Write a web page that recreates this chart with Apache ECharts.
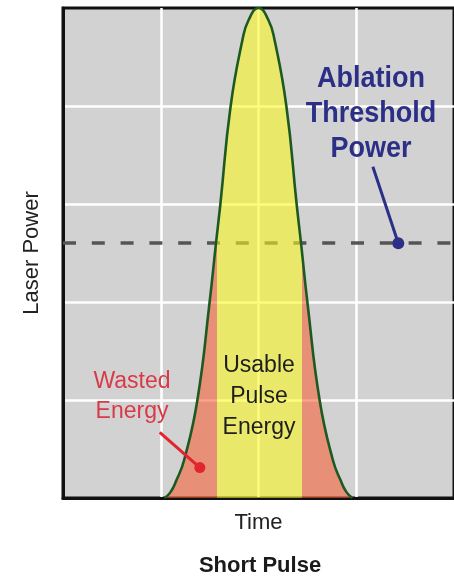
<!DOCTYPE html>
<html>
<head>
<meta charset="utf-8">
<script src="https://cdn.jsdelivr.net/npm/echarts@6/dist/echarts.min.js"></script>
<style>
  html, body { margin: 0; padding: 0; background: #ffffff; }
  #chart { width: 454px; height: 578px; }
</style>
</head>
<body>
<div id="chart"></div>
<script>
// Pulse profile: time (grid units) and laser power (grid units)
const pulseTime  = [1.04, 1.10, 1.16, 1.24, 1.375, 1.50, 1.565, 1.61, 1.715, 1.835, 1.90, 2.0, 2.10, 2.165, 2.285, 2.39, 2.435, 2.50, 2.625, 2.76, 2.84, 2.90, 2.96];
const pulsePower = [0,    0.06, 0.18, 0.39, 1.0,   2.0,  2.6,   3.0,  4.0,   4.67,  4.88, 5.0, 4.88, 4.67,  4.0,   3.0,  2.6,   2.0,  1.0,   0.39, 0.18, 0.06, 0];

// Ablation threshold power and the time window where the pulse exceeds it
const thresholdPower = 2.6;
const usableWindow = [1.58, 2.44];

// Axis extents (no tick labels are shown)
const timeRange = [0, 4];
const powerRange = [0, 5];

const pulseData = pulseTime.map((t, i) => [t, pulsePower[i]]);

const FONT = '"Liberation Sans", Arial, Helvetica, sans-serif';
const SALMON = '#f85c34';
const YELLOW = '#fcf91b';

const chart = echarts.init(document.getElementById('chart'), null, { renderer: 'canvas' });

const option = {
  animation: false,
  backgroundColor: '#ffffff',
  title: {
    text: 'Short Pulse',
    left: 255,
    top: 550,
    textAlign: 'center',
    textStyle: { fontFamily: FONT, fontSize: 22, fontWeight: 'bold', color: '#1a1a1a' }
  },
  grid: {
    left: 63, top: 8, right: -1, bottom: 80,
    show: true,
    backgroundColor: '#d2d2d2',
    borderColor: '#111111',
    borderWidth: 3
  },
  visualMap: {
    show: false,
    type: 'piecewise',
    seriesIndex: 0,
    dimension: 0,
    pieces: [
      { lt: usableWindow[0], color: SALMON },
      { gte: usableWindow[0], lte: usableWindow[1], color: YELLOW },
      { gt: usableWindow[1], color: SALMON }
    ]
  },
  xAxis: {
    type: 'value',
    min: timeRange[0], max: timeRange[1], interval: 1,
    name: 'Time',
    nameLocation: 'middle',
    nameGap: 14,
    nameTextStyle: { fontFamily: FONT, fontSize: 22, color: '#222222' },
    axisLine: { show: true, lineStyle: { color: '#111111', width: 3 } },
    axisTick: { show: false },
    axisLabel: { show: false },
    splitLine: { show: true, showMinLine: false, showMaxLine: false, lineStyle: { color: '#ffffff', width: 2.5 } }
  },
  yAxis: {
    type: 'value',
    min: powerRange[0], max: powerRange[1], interval: 1,
    name: 'Laser Power',
    nameLocation: 'middle',
    nameGap: 20,
    nameTextStyle: { fontFamily: FONT, fontSize: 22, color: '#222222' },
    axisLine: { show: true, lineStyle: { color: '#111111', width: 3 } },
    axisTick: { show: false },
    axisLabel: { show: false },
    splitLine: { show: true, showMinLine: false, showMaxLine: false, lineStyle: { color: '#ffffff', width: 2.5 } }
  },
  series: [
    {
      // filled pulse energy, coloured by the visual map
      type: 'line',
      data: pulseData,
      smooth: 0.5,
      showSymbol: false,
      silent: true,
      z: 2,
      lineStyle: { width: 0 },
      areaStyle: { opacity: 0.57 }
    },
    {
      // pulse outline and the threshold level
      type: 'line',
      data: pulseData,
      smooth: 0.5,
      showSymbol: false,
      silent: true,
      z: 3,
      lineStyle: { color: '#1d5a22', width: 2.6 },
      markLine: {
        silent: true,
        z: 1,
        symbol: 'none',
        label: { show: false },
        lineStyle: { color: '#555555', width: 3.5, type: [13, 15.8] },
        data: [{ yAxis: thresholdPower }]
      }
    }
  ]
};

chart.setOption(option);

// Annotations: callout texts with leader lines ending on a dot
const px = (t, p) => chart.convertToPixel({ gridIndex: 0 }, [t, p]);
const blueDot = px(3.43, thresholdPower);
const blueFrom = px(3.17, 3.38);
const redDot = px(1.40, 0.31);
const redFrom = px(0.99, 0.67);
const BLUE = '#2c2f86';
const RED = '#e0252f';

chart.setOption({
  graphic: [
    {
      type: 'line', silent: true, z: 10,
      shape: { x1: blueFrom[0], y1: blueFrom[1], x2: blueDot[0], y2: blueDot[1] },
      style: { stroke: BLUE, lineWidth: 3 }
    },
    {
      type: 'circle', silent: true, z: 10,
      shape: { cx: blueDot[0], cy: blueDot[1], r: 6 },
      style: { fill: BLUE }
    },
    {
      type: 'text', silent: true, z: 10,
      x: 371, y: 61, scaleY: 1.1,
      style: {
        text: 'Ablation\nThreshold\nPower',
        fontFamily: FONT, fontSize: 27, fontWeight: 'bold',
        lineHeight: 32, fill: BLUE, align: 'center', verticalAlign: 'top'
      }
    },
    {
      type: 'line', silent: true, z: 10,
      shape: { x1: redFrom[0], y1: redFrom[1], x2: redDot[0], y2: redDot[1] },
      style: { stroke: RED, lineWidth: 3 }
    },
    {
      type: 'circle', silent: true, z: 10,
      shape: { cx: redDot[0], cy: redDot[1], r: 5.5 },
      style: { fill: RED }
    },
    {
      type: 'text', silent: true, z: 10,
      x: 132, y: 367,
      style: {
        text: 'Wasted\nEnergy',
        fontFamily: FONT, fontSize: 23,
        lineHeight: 30, fill: '#d83a48', align: 'center', verticalAlign: 'top'
      }
    },
    {
      type: 'text', silent: true, z: 10,
      x: 259, y: 350,
      style: {
        text: 'Usable\nPulse\nEnergy',
        fontFamily: FONT, fontSize: 23,
        lineHeight: 31, fill: '#1e1e1e', align: 'center', verticalAlign: 'top'
      }
    }
  ]
});
</script>
</body>
</html>
